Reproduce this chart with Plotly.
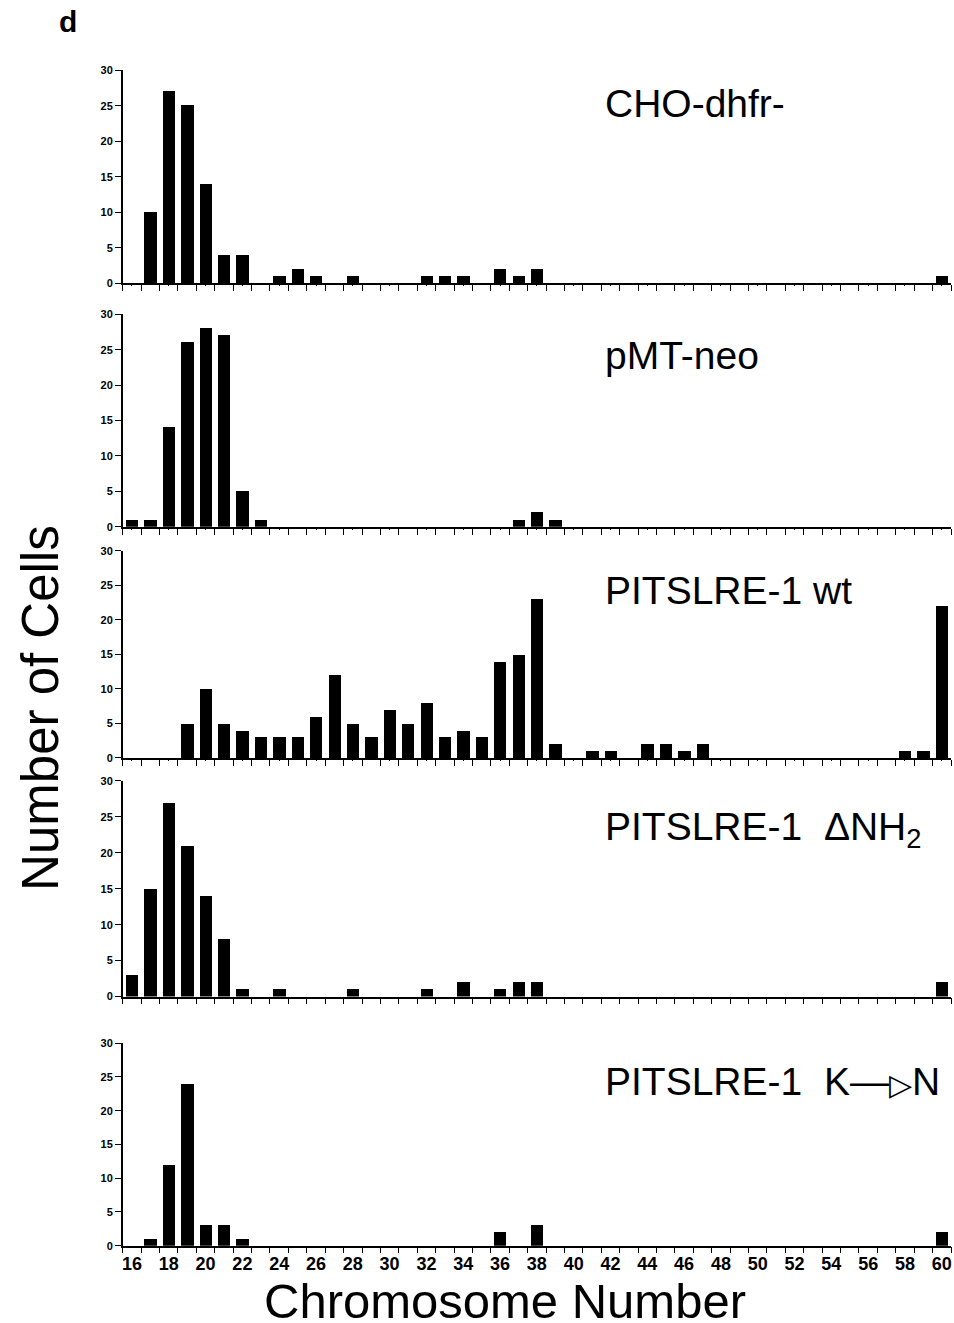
import plotly.graph_objects as go

# ---------------- data ----------------
chrom = list(range(16, 61))

panel_names = ["CHO-dhfr-", "pMT-neo", "PITSLRE-1 wt",
               "PITSLRE-1  ΔNH<sub>2</sub>",
               "PITSLRE-1  K\u2014<span style='font-size:30px'>\u25B7</span>N"]

cho_dhfr = {17: 10, 18: 27, 19: 25, 20: 14, 21: 4, 22: 4, 24: 1, 25: 2, 26: 1,
            28: 1, 32: 1, 33: 1, 34: 1, 36: 2, 37: 1, 38: 2, 60: 1}
pmt_neo = {16: 1, 17: 1, 18: 14, 19: 26, 20: 28, 21: 27, 22: 5, 23: 1,
           37: 1, 38: 2, 39: 1}
pitslre_wt = {19: 5, 20: 10, 21: 5, 22: 4, 23: 3, 24: 3, 25: 3, 26: 6, 27: 12,
              28: 5, 29: 3, 30: 7, 31: 5, 32: 8, 33: 3, 34: 4, 35: 3, 36: 14,
              37: 15, 38: 23, 39: 2, 41: 1, 42: 1, 44: 2, 45: 2, 46: 1, 47: 2,
              58: 1, 59: 1, 60: 22}
pitslre_dnh2 = {16: 3, 17: 15, 18: 27, 19: 21, 20: 14, 21: 8, 22: 1, 24: 1,
                28: 1, 32: 1, 34: 2, 36: 1, 37: 2, 38: 2, 60: 2}
pitslre_kn = {17: 1, 18: 12, 19: 24, 20: 3, 21: 3, 22: 1, 36: 2, 38: 3, 60: 2}

series = [cho_dhfr, pmt_neo, pitslre_wt, pitslre_dnh2, pitslre_kn]

y_ticks = [0, 5, 10, 15, 20, 25, 30]
x_label_vals = list(range(16, 61, 2))
x_minor_vals = [v + 0.5 for v in range(15, 61)]

# ---------------- layout geometry ----------------
W, H = 954, 1323
panel_px = [(70, 283), (314, 526.7), (550.7, 758), (781, 996.7), (1043.3, 1246)]
label_px = [103, 355, 590, 830, 1082]
x0_px, x1_px = 122, 952


def yp(px):
    # pixel row (from top) -> paper fraction, with a small vertical stretch
    adj = 659 + (px - 659) * 1.0086
    return 1 - adj / H


fig = go.Figure()
FONT = "Liberation Sans, Arial, Helvetica, sans-serif"

for i, (data, (top, bot)) in enumerate(zip(series, panel_px)):
    n = i + 1
    xs = [c for c in chrom if c in data]
    ys = [data[c] for c in xs]
    fig.add_trace(go.Bar(x=xs, y=ys, width=0.67, marker=dict(color="black", line=dict(width=0)),
                         xaxis=f"x{n}", yaxis=f"y{n}", showlegend=False))
    xa = dict(domain=[x0_px / W, x1_px / W], range=[15.5, 60.5], anchor=f"y{n}",
              showline=True, linecolor="black", linewidth=1.5, showgrid=False, zeroline=False,
              tickmode="array", tickvals=x_label_vals, ticks="outside", ticklen=1,
              tickcolor="black", showticklabels=(n == 5),
              tickfont=dict(family=FONT, size=18, color="black", weight="bold"),
              minor=dict(tickmode="array", tickvals=x_minor_vals, ticks="outside",
                         ticklen=6, tickwidth=1.3, tickcolor="black", showgrid=False))
    ya = dict(domain=[yp(bot), yp(top)], range=[0, 30], anchor=f"x{n}",
              showline=True, linecolor="black", linewidth=1.5, showgrid=False, zeroline=False,
              tickmode="array", tickvals=y_ticks, ticks="outside", ticklen=6, tickwidth=1.3,
              tickcolor="black", tickfont=dict(family=FONT, size=11, color="black", weight="bold"))
    key = "" if n == 1 else str(n)
    fig.layout["xaxis" + key] = xa
    fig.layout["yaxis" + key] = ya
    fig.add_annotation(text=panel_names[i], xref="paper", yref="paper",
                       x=603 / W, y=yp(label_px[i]), xanchor="left", yanchor="middle",
                       showarrow=False, font=dict(family=FONT, size=39, color="black"))

fig.add_annotation(text="Number of Cells", xref="paper", yref="paper", x=40 / W, y=yp(708),
                   xanchor="center", yanchor="middle", textangle=-90, showarrow=False,
                   font=dict(family=FONT, size=51, color="black"))
fig.add_annotation(text="Chromosome Number", xref="paper", yref="paper", x=505 / W, y=yp(1301),
                   xanchor="center", yanchor="middle", showarrow=False,
                   font=dict(family=FONT, size=49, color="black"))
fig.add_annotation(text="<b>d</b>", xref="paper", yref="paper", x=67 / W, y=yp(21),
                   xanchor="center", yanchor="middle", showarrow=False,
                   font=dict(family=FONT, size=30, color="black"))

fig.update_layout(width=W, height=H, margin=dict(l=0, r=0, t=0, b=0),
                  paper_bgcolor="white", plot_bgcolor="white", bargap=0)

fig.write_html("out.html", config={"displayModeBar": False},
               post_script="document.body.style.margin='0';document.body.style.overflow='hidden';")
